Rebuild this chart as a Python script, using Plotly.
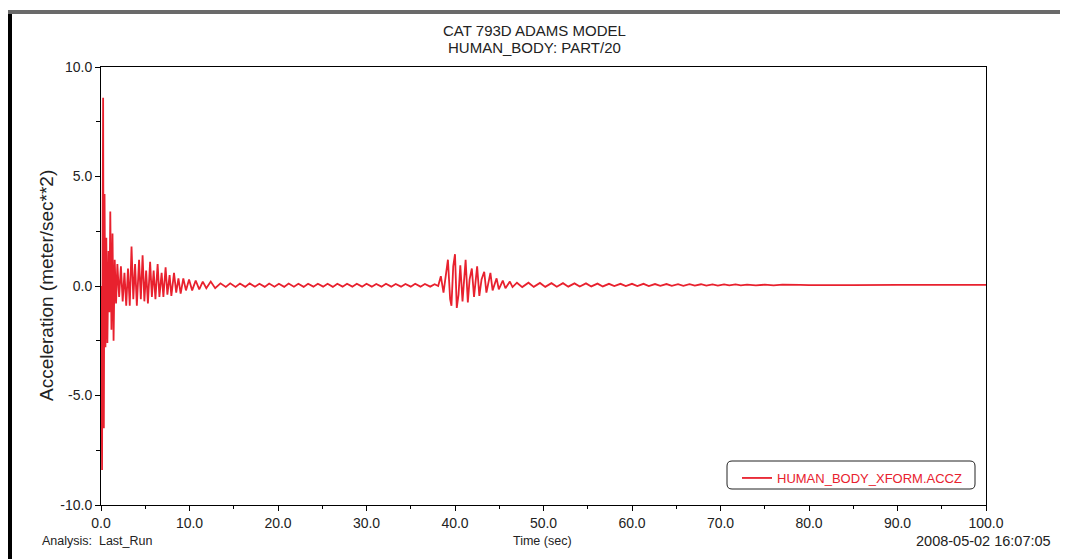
import plotly.graph_objects as go

# ---- data ----
time_s = [
    0.00, 0.05, 0.12, 0.18, 0.24, 0.32, 0.40, 0.50, 0.60, 0.72, 0.85, 0.95, 1.05, 1.18, 1.30, 1.42,
    1.55, 1.70, 1.85, 2.05, 2.25, 2.45, 2.65, 2.85, 3.05, 3.25, 3.45, 3.65, 3.85, 4.05, 4.30, 4.50,
    4.70, 4.90, 5.10, 5.30, 5.55, 5.75, 5.95, 6.15, 6.40, 6.60, 6.85, 7.05, 7.30, 7.50, 7.75, 7.95,
    8.25, 8.50, 8.75, 9.00, 9.30, 9.60, 9.95, 10.30, 10.70, 11.10, 11.50, 11.90, 12.40, 12.90,
    13.5, 14.1, 14.6, 15.2, 15.7, 16.3, 16.8, 17.4, 17.9, 18.5, 19.0, 19.6, 20.1, 20.7, 21.2, 21.8,
    22.3, 22.9, 23.4, 24.0, 24.5, 25.1, 25.6, 26.2, 26.7, 27.3, 27.8, 28.4, 28.9, 29.5, 30.0, 30.6,
    31.1, 31.7, 32.2, 32.8, 33.3, 33.9, 34.4, 35.0, 35.5, 36.1, 36.6, 37.2, 37.7,
    38.1, 38.4, 38.7, 39.0, 39.2, 39.45, 39.6, 39.8, 40.0, 40.2, 40.4, 40.6, 40.85, 41.2, 41.45,
    41.65, 41.9, 42.15, 42.5, 42.75, 43.0, 43.3, 43.55, 44.0, 44.25, 44.7, 44.95, 45.4, 45.7, 46.2, 46.5,
    47.0, 47.6, 48.3, 48.9, 49.6, 50.2, 50.9, 51.5, 52.2, 52.8, 53.5, 54.1, 54.8, 55.4, 56.1, 56.7,
    57.4, 58.0, 58.7, 59.3, 60.0, 60.6, 61.3, 61.9, 62.6, 63.2, 63.9, 64.5, 65.2, 65.8, 66.5, 67.1,
    67.8, 68.4, 69.1, 69.7, 70.4, 71.0, 71.7, 72.3, 73.0, 74.0, 75.0, 76.0, 77.0, 78.0, 79.0, 80.0,
    82.0, 85.0, 90.0, 95.0, 100.0,
]
accel_z = [
    0.0, -3.0, -8.4, 2.0, 8.6, -6.5, 4.2, -2.8, 2.2, -2.6, 1.6, -1.2, 3.4, -2.0, 2.4, -2.5,
    1.2, -0.8, 1.0, -0.5, 0.9, -0.7, 0.6, -0.9, 0.8, -0.9, 1.8, -0.6, 1.0, -0.9, 1.2, -0.6,
    1.4, -0.7, 0.7, -0.8, 1.1, -0.5, 0.7, -0.6, 1.0, -0.5, 0.6, -0.5, 0.85, -0.4, 0.5, -0.45,
    0.6, -0.3, 0.35, -0.35, 0.35, -0.2, 0.3, -0.2, 0.25, -0.15, 0.2, -0.1, 0.2, -0.1,
    0.12, -0.04, 0.12, -0.04, 0.11, -0.04, 0.12, -0.03, 0.10, -0.04, 0.11, -0.03, 0.10, -0.04, 0.11, -0.03,
    0.10, -0.04, 0.10, -0.03, 0.10, -0.03, 0.10, -0.04, 0.10, -0.03, 0.10, -0.03, 0.10, -0.03, 0.10, -0.03,
    0.09, -0.03, 0.10, -0.03, 0.09, -0.03, 0.09, -0.03, 0.10, -0.03, 0.09, -0.03, 0.08,
    0.0, 0.45, -0.3, 0.7, 1.2, -0.6, -0.9, 0.9, 1.45, -1.0, -0.4, 0.95, -0.7, 1.2, -0.75,
    0.3, 0.8, -0.5, 0.9, -0.45, 0.3, 0.65, -0.3, 0.6, -0.2, 0.35, -0.15, 0.25, -0.1, 0.2, -0.05,
    0.15, -0.05, 0.15, -0.04, 0.14, -0.04, 0.13, -0.03, 0.13, -0.03, 0.12, -0.02, 0.12, -0.02, 0.11, -0.02,
    0.10, 0.0, 0.10, 0.0, 0.10, 0.0, 0.10, 0.0, 0.09, 0.01, 0.09, 0.01, 0.08, 0.01, 0.08, 0.02,
    0.08, 0.02, 0.07, 0.02, 0.07, 0.03, 0.07, 0.03, 0.06, 0.03, 0.06, 0.03, 0.06, 0.04, 0.05, 0.04,
    0.05, 0.04, 0.05, 0.04, 0.05,
]
series_name = "HUMAN_BODY_XFORM.ACCZ"
x_tick_vals = [0, 10, 20, 30, 40, 50, 60, 70, 80, 90, 100]
x_tick_text = ["0.0", "10.0", "20.0", "30.0", "40.0", "50.0", "60.0", "70.0", "80.0", "90.0", "100.0"]
y_tick_vals = [-10, -5, 0, 5, 10]
y_tick_text = ["-10.0", "-5.0", "0.0", "5.0", "10.0"]

# page has an 8px body margin; build the figure so page positions line up
OFF = 8
W, H = 1060, 551
L, T = 101 - OFF, 67 - OFF
R = W - (986 - OFF)
B = H - (505 - OFF)
PW, PH = W - L - R, H - T - B
FONT = "Liberation Sans, Arial, sans-serif"
RED = "#e8212e"
INK = "#222"


def px(page_x):
    return (page_x - OFF - L) / PW


def py(page_y):
    return (H - B - (page_y - OFF)) / PH


fig = go.Figure()
fig.add_trace(go.Scatter(x=time_s, y=accel_z, mode="lines", name=series_name,
                         line=dict(color=RED, width=1.8), showlegend=True))

axis_common = dict(showline=True, linecolor="black", linewidth=1, mirror=True,
                   ticks="outside", ticklen=5, tickcolor="black", showgrid=False,
                   zeroline=False, tickfont=dict(family=FONT, size=14, color=INK))
fig.update_xaxes(range=[0, 100], tickvals=x_tick_vals, ticktext=x_tick_text,
                 minor=dict(dtick=5, ticks="outside", ticklen=3, tickcolor="black"),
                 **axis_common)
fig.update_yaxes(range=[-10, 10], tickvals=y_tick_vals, ticktext=y_tick_text,
                 minor=dict(dtick=2.5, ticks="outside", ticklen=4, tickcolor="black"),
                 **axis_common)


def label(text, x, y, size, xanchor="center", angle=0):
    return dict(text=text, x=px(x), y=py(y), xref="paper", yref="paper",
                showarrow=False, xanchor=xanchor, yanchor="middle", textangle=angle,
                font=dict(family=FONT, size=size, color=INK))


ann = [
    label("CAT 793D ADAMS MODEL", 534, 30, 15),
    label("HUMAN_BODY: PART/20", 534, 48, 15),
    label("Acceleration (meter/sec**2)", 46, 286, 19, angle=-90),
    label("Analysis:  Last_Run", 40, 541, 12.5, xanchor="left"),
    label("Time (sec)", 542, 541, 12.5),
    label("2008-05-02 16:07:05", 1053, 541, 14.5, xanchor="right"),
]

shapes = []
# outer frame
shapes.append(dict(type="line", xref="paper", yref="paper", x0=px(10), x1=px(10),
                   y0=py(600), y1=py(10), line=dict(color="black", width=4)))
shapes.append(dict(type="line", xref="paper", yref="paper", x0=px(8), x1=px(1100),
                   y0=py(12), y1=py(12), line=dict(color="#6a6a6a", width=4)))
# rounded legend box
x0, x1, y0, y1 = px(727), px(975), py(489), py(461)
dx, dy = 5 / PW, 5 / PH
path = (f"M {x0+dx},{y0} L {x1-dx},{y0} Q {x1},{y0} {x1},{y0+dy} L {x1},{y1-dy} "
        f"Q {x1},{y1} {x1-dx},{y1} L {x0+dx},{y1} Q {x0},{y1} {x0},{y1-dy} "
        f"L {x0},{y0+dy} Q {x0},{y0} {x0+dx},{y0} Z")
shapes.append(dict(type="path", xref="paper", yref="paper", path=path,
                   line=dict(color=INK, width=1)))

fig.update_layout(
    width=W, height=H, margin=dict(l=L, r=R, t=T, b=B),
    paper_bgcolor="white", plot_bgcolor="white",
    annotations=ann, shapes=shapes,
    showlegend=True,
    legend=dict(x=px(737), y=py(463), xanchor="left", yanchor="top",
                bgcolor="rgba(0,0,0,0)", borderwidth=0,
                font=dict(family=FONT, size=13, color=RED)),
)

fig.write_html("out.html")
